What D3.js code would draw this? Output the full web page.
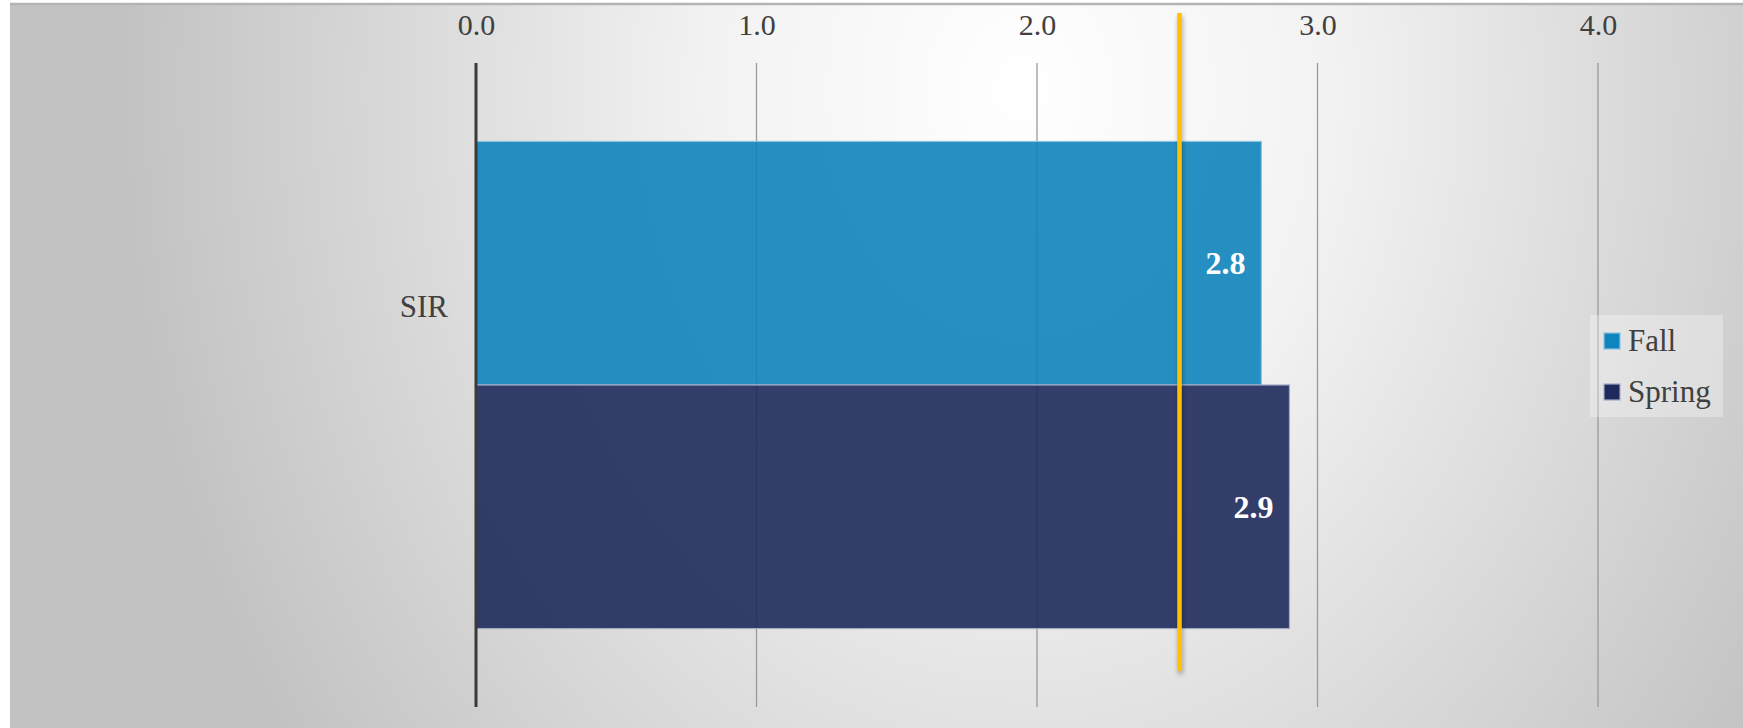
<!DOCTYPE html>
<html><head><meta charset="utf-8">
<script src="https://cdn.jsdelivr.net/npm/d3@7"></script>
<style>html,body{margin:0;padding:0;background:#fff;overflow:hidden}</style>
</head><body>
<svg id="chart" width="1743" height="728"></svg>
<script>
const categories = ["SIR"];
const seriesNames = ["Fall", "Spring"];
const fallValues = [2.8];
const springValues = [2.9];
const targetValue = 2.5;
const tickValues = [0, 1, 2, 3, 4];
const seriesColors = ["#0f84bd", "#1e2a5c"];
const seriesBorders = ["#8cc3df", "#a3aac4"];

const W = 1743, H = 728;
const svg = d3.select("#chart");
const font = "'Liberation Serif','Times New Roman',serif";
const defs = svg.append("defs");

const grad = defs.append("radialGradient").attr("id", "bg")
  .attr("gradientUnits", "userSpaceOnUse")
  .attr("cx", 1020).attr("cy", 90).attr("r", 900)
  .attr("gradientTransform", "translate(1020,90) scale(1,1.25) translate(-1020,-90)");
grad.append("stop").attr("offset", 0).attr("stop-color", "#ffffff");
grad.append("stop").attr("offset", 0.35).attr("stop-color", "#f2f2f2");
grad.append("stop").attr("offset", 1).attr("stop-color", "#c2c2c2");

const sh = defs.append("filter").attr("id", "shadow").attr("filterUnits", "userSpaceOnUse")
  .attr("x", 0).attr("y", 0).attr("width", W).attr("height", H);
sh.append("feDropShadow").attr("dx", 1).attr("dy", 3).attr("stdDeviation", 2.5)
  .attr("flood-color", "#000").attr("flood-opacity", 0.35);

// background
svg.append("rect").attr("x", 10).attr("y", 4).attr("width", W - 10).attr("height", H - 4).attr("fill", "url(#bg)");
svg.append("line").attr("x1", 10).attr("x2", W).attr("y1", 4).attr("y2", 4)
  .attr("stroke", "#b4b4b4").attr("stroke-width", 2.5);

const plotTop = 63, plotBottom = 707;
const x = d3.scaleLinear().domain([0, 4]).range([476, 1598]);
const y = d3.scaleBand().domain(categories).range([plotTop, plotBottom]).paddingInner(0).paddingOuter(0.161);
const ySeries = d3.scaleBand().domain(seriesNames).range([0, y.bandwidth()]);

// gridlines
svg.append("g").selectAll("line").data(tickValues.filter(d => d > 0)).join("line")
  .attr("x1", d => x(d)).attr("x2", d => x(d))
  .attr("y1", plotTop).attr("y2", plotBottom)
  .attr("stroke", "#9a9a9a").attr("stroke-width", 1.3);

// top axis labels
const axis = d3.axisTop(x).tickValues(tickValues).tickFormat(d3.format(".1f")).tickSize(0).tickPadding(0);
const ag = svg.append("g").attr("transform", "translate(0,35)").call(axis);
ag.select(".domain").remove();
ag.selectAll("text").attr("font-family", font).attr("font-size", 30).attr("fill", "#404040").attr("dy", 0);

// bars
const seriesData = [fallValues, springValues];
seriesNames.forEach((name, si) => {
  svg.append("g").selectAll("rect").data(categories).join("rect")
    .attr("x", x(0))
    .attr("y", c => y(c) + ySeries(name))
    .attr("width", (c, i) => x(seriesData[si][i]) - x(0))
    .attr("height", ySeries.bandwidth())
    .attr("fill", seriesColors[si]).attr("fill-opacity", 0.9)
    .attr("stroke", seriesBorders[si]).attr("stroke-width", 1.2);
});

// value labels
seriesNames.forEach((name, si) => {
  svg.append("g").selectAll("text").data(categories).join("text")
    .attr("x", (c, i) => x(seriesData[si][i]) - 16)
    .attr("y", c => y(c) + ySeries(name) + ySeries.bandwidth() / 2)
    .attr("dy", "0.35em")
    .attr("text-anchor", "end")
    .attr("font-family", font).attr("font-size", 32).attr("font-weight", "bold")
    .attr("fill", "#ffffff")
    .text((c, i) => d3.format(".1f")(seriesData[si][i]));
});

// category axis line
svg.append("line").attr("x1", x(0)).attr("x2", x(0)).attr("y1", plotTop).attr("y2", plotBottom)
  .attr("stroke", "#3a3a3a").attr("stroke-width", 3);

// category labels
svg.append("g").selectAll("text").data(categories).join("text")
  .attr("x", x(0) - 28).attr("y", c => y.step() / 2 + plotTop)
  .attr("dy", "0.35em").attr("text-anchor", "end")
  .attr("font-family", font).attr("font-size", 31).attr("fill", "#404040")
  .text(c => c);

// target line
svg.append("rect").attr("x", x(targetValue)).attr("width", 4.5)
  .attr("y", 13).attr("height", 671 - 13)
  .attr("fill", "#ffc000").attr("filter", "url(#shadow)");

// legend
const lg = svg.append("g").attr("transform", "translate(1590,315)");
lg.append("rect").attr("width", 133).attr("height", 102).attr("fill", "#ffffff").attr("fill-opacity", 0.3);
seriesNames.forEach((name, i) => {
  const row = lg.append("g").attr("transform", `translate(14,${18 + i * 51})`);
  row.append("rect").attr("width", 16).attr("height", 16)
    .attr("fill", seriesColors[i]).attr("stroke", seriesBorders[i]).attr("stroke-width", 1.2);
  row.append("text").attr("x", 24).attr("y", 18)
    .attr("font-family", font).attr("font-size", 31).attr("fill", "#404040").text(name);
});
</script>
</body></html>
